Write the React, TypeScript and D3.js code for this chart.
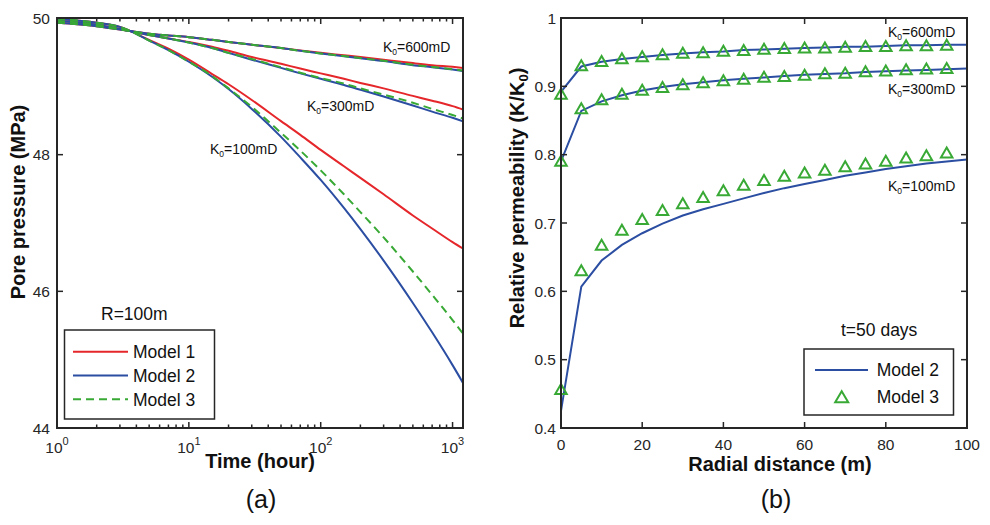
import React from "react";
import * as d3 from "d3";

// ---------- Data: panel (a) pore pressure (MPa) vs time (hour) ----------
const timeHours = [1, 2, 3, 5, 7, 10, 15, 20, 30, 50, 70, 100, 150, 200, 300, 500, 700, 1000, 1200];

const p600Model1 = [49.93, 49.88, 49.83, 49.77, 49.745, 49.72, 49.68, 49.65, 49.61, 49.56, 49.525, 49.49, 49.455, 49.43, 49.39, 49.34, 49.31, 49.285, 49.27];
const p600Model2 = [49.93, 49.88, 49.83, 49.77, 49.745, 49.72, 49.68, 49.65, 49.61, 49.56, 49.52, 49.48, 49.44, 49.41, 49.37, 49.31, 49.28, 49.245, 49.225];
const p600Model3 = [49.93, 49.88, 49.83, 49.77, 49.745, 49.72, 49.68, 49.65, 49.61, 49.56, 49.52, 49.482, 49.443, 49.413, 49.374, 49.316, 49.284, 49.25, 49.232];

const p300Model1 = [49.96, 49.9, 49.84, 49.75, 49.7, 49.65, 49.58, 49.52, 49.43, 49.33, 49.26, 49.19, 49.11, 49.05, 48.97, 48.86, 48.79, 48.71, 48.66];
const p300Model2 = [49.96, 49.9, 49.84, 49.75, 49.7, 49.64, 49.56, 49.49, 49.39, 49.27, 49.19, 49.11, 49.02, 48.95, 48.85, 48.72, 48.63, 48.54, 48.49];
const p300Model3 = [49.96, 49.9, 49.84, 49.75, 49.7, 49.64, 49.56, 49.49, 49.4, 49.28, 49.2, 49.12, 49.04, 48.97, 48.88, 48.76, 48.67, 48.58, 48.53];

const p100Model1 = [49.99, 49.93, 49.87, 49.68, 49.55, 49.39, 49.18, 49.03, 48.8, 48.49, 48.29, 48.07, 47.83, 47.66, 47.42, 47.11, 46.92, 46.72, 46.626];
const p100Model2 = [49.99, 49.93, 49.87, 49.67, 49.53, 49.36, 49.14, 48.96, 48.67, 48.26, 47.96, 47.63, 47.22, 46.91, 46.45, 45.83, 45.4, 44.92, 44.66];
const p100Model3 = [49.99, 49.93, 49.87, 49.67, 49.53, 49.36, 49.15, 48.97, 48.7, 48.32, 48.06, 47.77, 47.42, 47.16, 46.79, 46.29, 45.95, 45.58, 45.38];

const pressureTicks = [44, 46, 48, 50];
const timeDecades = [1, 10, 100, 1000];
const timeDecadeExponents = ["0", "1", "2", "3"];

// ---------- Data: panel (b) relative permeability vs radial distance ----------
const distanceModel2 = [0, 5, 10, 15, 20, 25, 30, 35, 40, 45, 50, 55, 60, 65, 70, 75, 80, 85, 90, 95, 100];
const perm600Model2 = [0.892, 0.929, 0.936, 0.94, 0.943, 0.946, 0.948, 0.95, 0.951, 0.953, 0.954, 0.955, 0.956, 0.957, 0.958, 0.958, 0.959, 0.96, 0.96, 0.961, 0.961];
const perm300Model2 = [0.79, 0.864, 0.878, 0.887, 0.894, 0.899, 0.903, 0.906, 0.909, 0.911, 0.913, 0.915, 0.917, 0.918, 0.919, 0.921, 0.922, 0.923, 0.924, 0.925, 0.926];
const perm100Model2 = [0.425, 0.607, 0.645, 0.668, 0.685, 0.699, 0.711, 0.72, 0.728, 0.736, 0.744, 0.751, 0.757, 0.763, 0.769, 0.774, 0.779, 0.783, 0.787, 0.79, 0.793];

const distanceModel3 = [0, 5, 10, 15, 20, 25, 30, 35, 40, 45, 50, 55, 60, 65, 70, 75, 80, 85, 90, 95];
const perm600Model3 = [0.889, 0.931, 0.937, 0.941, 0.944, 0.947, 0.949, 0.95, 0.952, 0.953, 0.955, 0.956, 0.957, 0.957, 0.958, 0.959, 0.959, 0.96, 0.96, 0.961];
const perm300Model3 = [0.791, 0.868, 0.881, 0.889, 0.895, 0.899, 0.903, 0.906, 0.909, 0.911, 0.914, 0.915, 0.917, 0.919, 0.92, 0.922, 0.923, 0.925, 0.926, 0.927];
const perm100Model3 = [0.457, 0.631, 0.668, 0.69, 0.706, 0.719, 0.729, 0.738, 0.748, 0.756, 0.763, 0.769, 0.774, 0.778, 0.783, 0.787, 0.791, 0.796, 0.799, 0.803];

const permTicks = [0.4, 0.5, 0.6, 0.7, 0.8, 0.9, 1];
const permTickLabels = ["0.4", "0.5", "0.6", "0.7", "0.8", "0.9", "1"];
const distanceTicks = [0, 20, 40, 60, 80, 100];

const legendA = ["Model 1", "Model 2", "Model 3"];
const legendB = ["Model 2", "Model 3"];

// ---------- Styles ----------
const RED = "#e5262a";
const BLUE = "#2b4ea2";
const GREEN = "#38a935";
const AXIS = "#262626";
const FONT = "'Liberation Sans', Arial, Helvetica, sans-serif";

const L = { left: 57, right: 463, top: 18, bottom: 428 };
const R = { left: 561, right: 967, top: 18, bottom: 428 };

const xA = d3.scaleLog().domain([1, 1200]).range([L.left, L.right]);
const yA = d3.scaleLinear().domain([44, 50]).range([L.bottom, L.top]);
const xB = d3.scaleLinear().domain([0, 100]).range([R.left, R.right]);
const yB = d3.scaleLinear().domain([0.4, 1]).range([R.bottom, R.top]);

const lineA = d3
  .line<[number, number]>()
  .x((d) => xA(d[0]))
  .y((d) => yA(d[1]))
  .curve(d3.curveMonotoneX);

const lineB = d3
  .line<[number, number]>()
  .x((d) => xB(d[0]))
  .y((d) => yB(d[1]));

const zipA = (vals: number[]) => timeHours.map((t, i) => [t, vals[i]] as [number, number]);
const zipB = (vals: number[]) => distanceModel2.map((t, i) => [t, vals[i]] as [number, number]);

const triPath = (cx: number, cy: number, w: number, h: number) =>
  `M${cx},${cy - h / 2}L${cx + w / 2},${cy + h / 2}L${cx - w / 2},${cy + h / 2}Z`;

function K0Label({ x, y, value }: { x: number; y: number; value: string }) {
  return (
    <text x={x} y={y} fontFamily={FONT} fontSize={14} fill="#111">
      K
      <tspan fontSize={8.5} dy={3}>
        0
      </tspan>
      <tspan dy={-3}>{`=${value}mD`}</tspan>
    </text>
  );
}

export default function App() {
  const minorTimes: number[] = [];
  [1, 10, 100].forEach((d) => {
    for (let k = 2; k <= 9; k++) minorTimes.push(d * k);
  });

  const seriesA = [
    { vals: p600Model1, color: RED, dash: undefined },
    { vals: p300Model1, color: RED, dash: undefined },
    { vals: p100Model1, color: RED, dash: undefined },
    { vals: p600Model2, color: BLUE, dash: undefined },
    { vals: p300Model2, color: BLUE, dash: undefined },
    { vals: p100Model2, color: BLUE, dash: undefined },
    { vals: p600Model3, color: GREEN, dash: "8,5" },
    { vals: p300Model3, color: GREEN, dash: "8,5" },
    { vals: p100Model3, color: GREEN, dash: "8,5" },
  ];

  const seriesBLines = [perm600Model2, perm300Model2, perm100Model2];
  const seriesBMarkers = [perm600Model3, perm300Model3, perm100Model3];

  return (
    <svg
      width={990}
      height={525}
      style={{ position: "absolute", left: 0, top: 0, background: "#fff" }}
      fontFamily={FONT}
    >
      <defs>
        <clipPath id="clipA">
          <rect x={L.left} y={L.top} width={L.right - L.left} height={L.bottom - L.top} />
        </clipPath>
        <clipPath id="clipB">
          <rect x={R.left} y={R.top} width={R.right - R.left} height={R.bottom - R.top} />
        </clipPath>
      </defs>
      <rect x={0} y={0} width={990} height={525} fill="#fff" />

      {/* ================= Panel (a) ================= */}
      <g clipPath="url(#clipA)">
        {seriesA.map((s, i) => (
          <path
            key={i}
            d={lineA(zipA(s.vals)) || ""}
            fill="none"
            stroke={s.color}
            strokeWidth={2}
            strokeDasharray={s.dash}
          />
        ))}
      </g>

      {pressureTicks.map((v) => (
        <g key={"pt" + v}>
          <line x1={L.left} x2={L.left + 6} y1={yA(v)} y2={yA(v)} stroke={AXIS} strokeWidth={1.5} />
          <line x1={L.right} x2={L.right - 6} y1={yA(v)} y2={yA(v)} stroke={AXIS} strokeWidth={1.5} />
          <text x={L.left - 7} y={yA(v)} dy="0.36em" textAnchor="end" fontSize={15.5} fill={AXIS}>
            {v}
          </text>
        </g>
      ))}
      {timeDecades.map((v, i) => (
        <g key={"td" + v}>
          <line x1={xA(v)} x2={xA(v)} y1={L.bottom} y2={L.bottom - 6} stroke={AXIS} strokeWidth={1.5} />
          <line x1={xA(v)} x2={xA(v)} y1={L.top} y2={L.top + 6} stroke={AXIS} strokeWidth={1.5} />
          <text x={xA(v)} y={453} textAnchor="middle" fontSize={15.5} fill={AXIS}>
            10
            <tspan fontSize={11} dy={-8}>
              {timeDecadeExponents[i]}
            </tspan>
          </text>
        </g>
      ))}
      {minorTimes.map((v) => (
        <g key={"tm" + v}>
          <line x1={xA(v)} x2={xA(v)} y1={L.bottom} y2={L.bottom - 3.5} stroke={AXIS} strokeWidth={1.5} />
          <line x1={xA(v)} x2={xA(v)} y1={L.top} y2={L.top + 3.5} stroke={AXIS} strokeWidth={1.5} />
        </g>
      ))}
      <rect
        x={L.left}
        y={L.top}
        width={L.right - L.left}
        height={L.bottom - L.top}
        fill="none"
        stroke={AXIS}
        strokeWidth={2}
      />

      <K0Label x={383} y={51.5} value="600" />
      <K0Label x={307} y={111} value="300" />
      <K0Label x={210} y={154} value="100" />

      <text x={101} y={319.5} fontSize={17.5} fill="#111">
        R=100m
      </text>

      <rect x={64.5} y={330} width={150} height={89} fill="#fff" stroke={AXIS} strokeWidth={1.5} />
      {legendA.map((name, i) => {
        const cy = 351.7 + i * 23.8;
        const color = [RED, BLUE, GREEN][i];
        return (
          <g key={name}>
            <line
              x1={73}
              x2={128}
              y1={cy}
              y2={cy}
              stroke={color}
              strokeWidth={2}
              strokeDasharray={i === 2 ? "8,5" : undefined}
            />
            <text x={133} y={cy} dy="0.36em" fontSize={17.5} fill="#111">
              {name}
            </text>
          </g>
        );
      })}

      <text x={260} y={468} textAnchor="middle" fontSize={20} fontWeight="bold" fill="#111">
        Time (hour)
      </text>
      <text
        transform="translate(24.5,202) rotate(-90)"
        textAnchor="middle"
        fontSize={20}
        fontWeight="bold"
        fill="#111"
      >
        Pore pressure (MPa)
      </text>
      <text x={261} y={508} textAnchor="middle" fontSize={25} fill="#111">
        (a)
      </text>

      {/* ================= Panel (b) ================= */}
      <g clipPath="url(#clipB)">
        {seriesBLines.map((vals, i) => (
          <path key={i} d={lineB(zipB(vals)) || ""} fill="none" stroke={BLUE} strokeWidth={2} />
        ))}
      </g>
      {seriesBMarkers.map((vals, i) => (
        <g key={"m" + i}>
          {distanceModel3.map((d, j) => (
            <path
              key={j}
              d={triPath(xB(d), yB(vals[j]), 11.5, 10)}
              fill="none"
              stroke={GREEN}
              strokeWidth={2}
            />
          ))}
        </g>
      ))}

      {permTicks.map((v, i) => (
        <g key={"yb" + v}>
          <line x1={R.left} x2={R.left + 6} y1={yB(v)} y2={yB(v)} stroke={AXIS} strokeWidth={1.5} />
          <line x1={R.right} x2={R.right - 6} y1={yB(v)} y2={yB(v)} stroke={AXIS} strokeWidth={1.5} />
          <text x={R.left - 5} y={yB(v)} dy="0.36em" textAnchor="end" fontSize={15.5} fill={AXIS}>
            {permTickLabels[i]}
          </text>
        </g>
      ))}
      {distanceTicks.map((v) => (
        <g key={"xb" + v}>
          <line x1={xB(v)} x2={xB(v)} y1={R.bottom} y2={R.bottom - 6} stroke={AXIS} strokeWidth={1.5} />
          <line x1={xB(v)} x2={xB(v)} y1={R.top} y2={R.top + 6} stroke={AXIS} strokeWidth={1.5} />
          <text x={xB(v)} y={449.5} textAnchor="middle" fontSize={15.5} fill={AXIS}>
            {v}
          </text>
        </g>
      ))}
      <rect
        x={R.left}
        y={R.top}
        width={R.right - R.left}
        height={R.bottom - R.top}
        fill="none"
        stroke={AXIS}
        strokeWidth={2}
      />

      <K0Label x={888} y={37} value="600" />
      <K0Label x={888} y={94} value="300" />
      <K0Label x={888} y={190.5} value="100" />

      <text x={841} y={335.5} fontSize={17.5} fill="#111">
        t=50 days
      </text>

      <rect x={804} y={349} width={149.5} height={66} fill="#fff" stroke={AXIS} strokeWidth={1.5} />
      <line x1={815} x2={868} y1={370} y2={370} stroke={BLUE} strokeWidth={2} />
      <text x={876.7} y={370} dy="0.36em" fontSize={17.5} fill="#111">
        {legendB[0]}
      </text>
      <path d={triPath(841.7, 396.7, 13, 11)} fill="none" stroke={GREEN} strokeWidth={2} />
      <text x={876.7} y={396.7} dy="0.36em" fontSize={17.5} fill="#111">
        {legendB[1]}
      </text>

      <text x={780} y={471} textAnchor="middle" fontSize={20} fontWeight="bold" fill="#111">
        Radial distance (m)
      </text>
      <text
        transform="translate(524,198) rotate(-90)"
        textAnchor="middle"
        fontSize={20}
        fontWeight="bold"
        fill="#111"
      >
        Relative permeability (K/K
        <tspan fontSize={13} dy={4}>
          0
        </tspan>
        <tspan dy={-4}>)</tspan>
      </text>
      <text x={776} y={508} textAnchor="middle" fontSize={25} fill="#111">
        (b)
      </text>
    </svg>
  );
}
